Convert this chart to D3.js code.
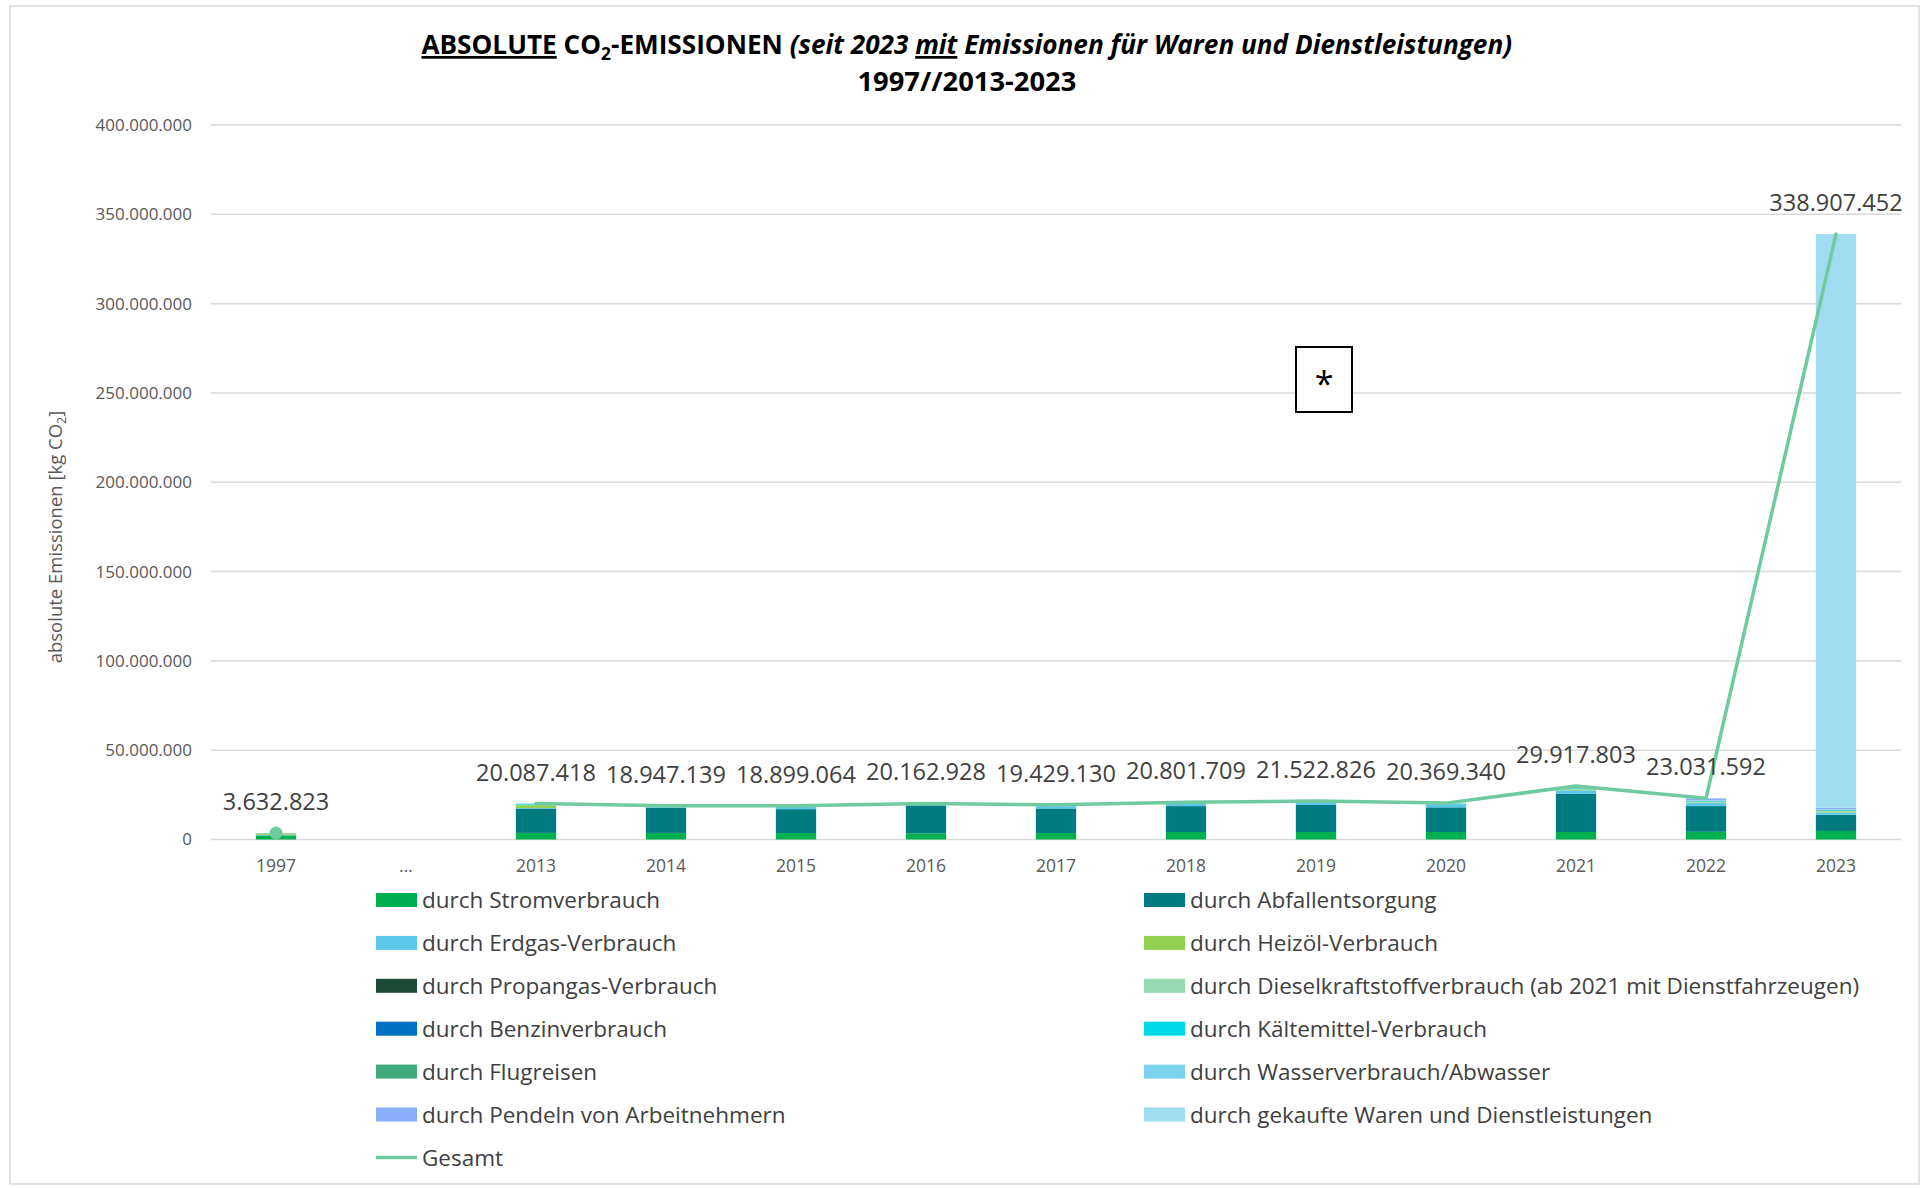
<!DOCTYPE html>
<html lang="de">
<head>
<meta charset="utf-8">
<title>Absolute CO2-Emissionen 1997//2013-2023</title>
<script src="https://cdn.jsdelivr.net/npm/d3@7"></script>
<style>
  html, body { margin: 0; padding: 0; background: #ffffff; }
  svg { display: block; }
  text { font-family: "Open Sans", "Noto Sans", "DejaVu Sans", sans-serif; }
</style>
</head>
<body>
<svg id="chart" width="1922" height="1188"></svg>
<script>
// Categories along the x axis ("..." marks the gap between 1997 and 2013)
const categories = ["1997", "...", "2013", "2014", "2015", "2016", "2017", "2018", "2019", "2020", "2021", "2022", "2023"];

// Emissions per source in kg CO2 (null = no data for that category)
const strom      = [2300000, null, 3700000, 3700000, 3600000, 3500000, 3600000, 4200000, 4200000, 4200000, 4200000, 4300000, 4800000];
const abfall     = [0, null, 13600000, 14100000, 13400000, 15600000, 13800000, 14500000, 15100000, 13800000, 21300000, 14400000, 9000000];
const erdgas     = [300000, null, 300000, 600000, 1200000, 600000, 1300000, 1300000, 1400000, 1800000, 2000000, 1700000, 1300000];
const heizoel    = [700000, null, 1600000, 200000, 200000, 100000, 200000, 200000, 200000, 100000, 200000, 200000, 300000];
const propangas  = [100000, null, 0, 0, 0, 0, 0, 0, 0, 0, 0, 0, 0];
const diesel     = [100000, null, 287418, 200000, 200000, 200000, 200000, 300000, 300000, 200000, 600000, 500000, 600000];
const benzin     = [0, null, 0, 0, 0, 0, 0, 0, 0, 0, 0, 0, 0];
const kaeltemittel = [0, null, 500000, 100000, 200000, 100000, 200000, 200000, 200000, 200000, 300000, 300000, 300000];
const flugreisen = [0, null, 0, 0, 0, 0, 0, 0, 0, 0, 100000, 200000, 400000];
const wasser     = [132823, null, 100000, 47139, 99064, 62928, 129130, 101709, 122826, 69340, 200000, 331592, 300000];
const pendeln    = [0, null, 0, 0, 0, 0, 0, 0, 0, 0, 0, 1100000, 800000];
const waren      = [0, null, 0, 0, 0, 0, 0, 0, 0, 0, 0, 0, 321107452];

// Total emissions per category (line series with value labels)
const gesamt = [3632823, null, 20087418, 18947139, 18899064, 20162928, 19429130, 20801709, 21522826, 20369340, 29917803, 23031592, 338907452];

// Y axis tick values
const yTicks = [0, 50000000, 100000000, 150000000, 200000000, 250000000, 300000000, 350000000, 400000000];

// Stack series, bottom to top, with legend names and fill colours
const seriesDefs = [
  { key: "strom",        name: "durch Stromverbrauch",                                   values: strom,        color: "#00b050" },
  { key: "abfall",       name: "durch Abfallentsorgung",                                 values: abfall,       color: "#017a80" },
  { key: "erdgas",       name: "durch Erdgas-Verbrauch",                                 values: erdgas,       color: "#5bc8ea" },
  { key: "heizoel",      name: "durch Heizöl-Verbrauch",                                 values: heizoel,      color: "#92d050" },
  { key: "propangas",    name: "durch Propangas-Verbrauch",                              values: propangas,    color: "#1d4a37" },
  { key: "diesel",       name: "durch Dieselkraftstoffverbrauch (ab 2021 mit Dienstfahrzeugen)", values: diesel, color: "#98dab4" },
  { key: "benzin",       name: "durch Benzinverbrauch",                                  values: benzin,       color: "#0070c0" },
  { key: "kaeltemittel", name: "durch Kältemittel-Verbrauch",                            values: kaeltemittel, color: "#00d9e6" },
  { key: "flugreisen",   name: "durch Flugreisen",                                       values: flugreisen,   color: "#40aa7c" },
  { key: "wasser",       name: "durch Wasserverbrauch/Abwasser",                         values: wasser,       color: "#7dd2ee" },
  { key: "pendeln",      name: "durch Pendeln von Arbeitnehmern",                        values: pendeln,      color: "#8aaefa" },
  { key: "waren",        name: "durch gekaufte Waren und Dienstleistungen",              values: waren,        color: "#a0dcf0" }
];
const lineColor = "#6fcb9f";

const de = d3.formatLocale({ decimal: ",", thousands: ".", grouping: [3], currency: ["", " €"] });
const fmt = de.format(",.0f");

const svg = d3.select("#chart");

// chart frame
svg.append("rect").attr("x", 10).attr("y", 6).attr("width", 1909).attr("height", 1178)
  .attr("fill", "#fff").attr("stroke", "#d9d9d9").attr("stroke-width", 1.5);

// scales
const x = d3.scaleBand().domain(categories).range([211, 1901]).paddingInner(0.69).paddingOuter(0.345);
const y = d3.scaleLinear().domain([0, 400000000]).range([839.5, 125]);

// gridlines
svg.append("g").selectAll("line").data(yTicks).join("line")
  .attr("x1", 211).attr("x2", 1901)
  .attr("y1", d => y(d)).attr("y2", d => y(d))
  .attr("stroke", "#d9d9d9").attr("stroke-width", 1.5);

// y axis labels
const yAxis = d3.axisLeft(y).tickValues(yTicks).tickFormat(d => fmt(d)).tickSize(0).tickPadding(0);
svg.append("g").attr("transform", "translate(192,0)").call(yAxis)
  .call(g => g.select(".domain").remove())
  .call(g => g.selectAll("text").attr("fill", "#595959").attr("font-size", 17)
    .style("font-family", "'Open Sans', sans-serif"));

// x axis labels
const xAxis = d3.axisBottom(x).tickSize(0).tickPadding(0);
svg.append("g").attr("transform", "translate(0,860)").call(xAxis)
  .call(g => g.select(".domain").remove())
  .call(g => g.selectAll("text").attr("fill", "#595959").attr("font-size", 17.5)
    .style("font-family", "'Open Sans', sans-serif"));

// stacked bars
const rows = categories.map((c, i) => {
  const r = { cat: c, empty: seriesDefs.every(s => s.values[i] == null) };
  seriesDefs.forEach(s => { r[s.key] = s.values[i] || 0; });
  return r;
});
const stack = d3.stack().keys(seriesDefs.map(s => s.key));
const stacked = stack(rows);
const barG = svg.append("g");
stacked.forEach((layer, li) => {
  barG.append("g").attr("fill", seriesDefs[li].color)
    .selectAll("rect")
    .data(layer.filter(d => !d.data.empty && d[1] > d[0]))
    .join("rect")
    .attr("x", d => x(d.data.cat))
    .attr("width", x.bandwidth())
    .attr("y", d => y(d[1]))
    .attr("height", d => y(d[0]) - y(d[1]));
});

// total line (broken where no value)
const pts = categories.map((c, i) => ({ cat: c, v: gesamt[i] }));
const line = d3.line()
  .defined(d => d.v != null)
  .x(d => x(d.cat) + x.bandwidth() / 2)
  .y(d => y(d.v));
svg.append("path").datum(pts).attr("d", line)
  .attr("fill", "none").attr("stroke", lineColor).attr("stroke-width", 3.5)
  .attr("stroke-linejoin", "round").attr("stroke-linecap", "round");
// single isolated points are drawn as dots
pts.forEach((d, i) => {
  if (d.v == null) return;
  const prev = i > 0 ? pts[i - 1].v : null, next = i < pts.length - 1 ? pts[i + 1].v : null;
  if (prev == null && next == null) {
    svg.append("circle").attr("cx", x(d.cat) + x.bandwidth() / 2).attr("cy", y(d.v)).attr("r", 6.5)
      .attr("fill", lineColor);
  }
});

// value labels for the total
svg.append("g").selectAll("text").data(pts.filter(d => d.v != null)).join("text")
  .attr("x", d => x(d.cat) + x.bandwidth() / 2)
  .attr("y", d => y(d.v) - 23)
  .attr("text-anchor", "middle")
  .attr("font-size", 23.5)
  .attr("fill", "#404040")
  .text(d => fmt(d.v));

// asterisk box
svg.append("rect").attr("x", 1296).attr("y", 347).attr("width", 56).attr("height", 65)
  .attr("fill", "#fff").attr("stroke", "#000").attr("stroke-width", 2);
svg.append("text").attr("x", 1324).attr("y", 396).attr("text-anchor", "middle")
  .attr("font-size", 34).attr("fill", "#000").text("*");

// y axis title
const yt = svg.append("text")
  .attr("transform", "translate(62,537) rotate(-90)")
  .attr("text-anchor", "middle").attr("font-size", 18.5).attr("fill", "#595959");
yt.append("tspan").text("absolute Emissionen [kg CO");
yt.append("tspan").attr("font-size", 12.5).attr("dy", 4).text("2");
yt.append("tspan").attr("dy", -4).text("]");

// title (two lines, condensed horizontally to the available width)
function fitCentered(sel, cx, width) {
  const w = sel.node().getComputedTextLength();
  const s = width / w;
  sel.attr("transform", `translate(${cx - width / 2},0) scale(${s},1)`);
}
const t1 = svg.append("text").attr("x", 0).attr("y", 54).attr("font-size", 27).attr("font-weight", 700).attr("fill", "#000");
t1.append("tspan").attr("text-decoration", "underline").text("ABSOLUTE");
t1.append("tspan").text(" CO");
t1.append("tspan").attr("font-size", 18).attr("dy", 6).text("2");
t1.append("tspan").attr("dy", -6).text("-EMISSIONEN ");
t1.append("tspan").attr("font-style", "italic").text("(seit 2023 ");
t1.append("tspan").attr("font-style", "italic").attr("text-decoration", "underline").text("mit");
t1.append("tspan").attr("font-style", "italic").text(" Emissionen für Waren und Dienstleistungen)");
fitCentered(t1, 967, 1091);

const t2 = svg.append("text").attr("x", 0).attr("y", 91).attr("font-size", 27).attr("font-weight", 700).attr("fill", "#000")
  .text("1997//2013-2023");
fitCentered(t2, 967, 219);

// legend (two columns, row by row)
const legend = svg.append("g");
const legendItems = seriesDefs.map(s => ({ name: s.name, color: s.color, type: "rect" }))
  .concat([{ name: "Gesamt", color: lineColor, type: "line" }]);
legendItems.forEach((d, i) => {
  const col = i % 2, row = Math.floor(i / 2);
  const sx = col === 0 ? 376 : 1144;
  const cy = 900 + row * 42.9;
  if (d.type === "rect") {
    legend.append("rect").attr("x", sx).attr("y", cy - 7).attr("width", 41).attr("height", 14).attr("fill", d.color);
  } else {
    legend.append("line").attr("x1", sx).attr("x2", sx + 41).attr("y1", cy).attr("y2", cy)
      .attr("stroke", d.color).attr("stroke-width", 3.5);
  }
  legend.append("text").attr("x", sx + 46).attr("y", cy).attr("dy", "0.36em")
    .attr("font-size", 22.5).attr("fill", "#404040").text(d.name);
});
</script>
</body>
</html>
